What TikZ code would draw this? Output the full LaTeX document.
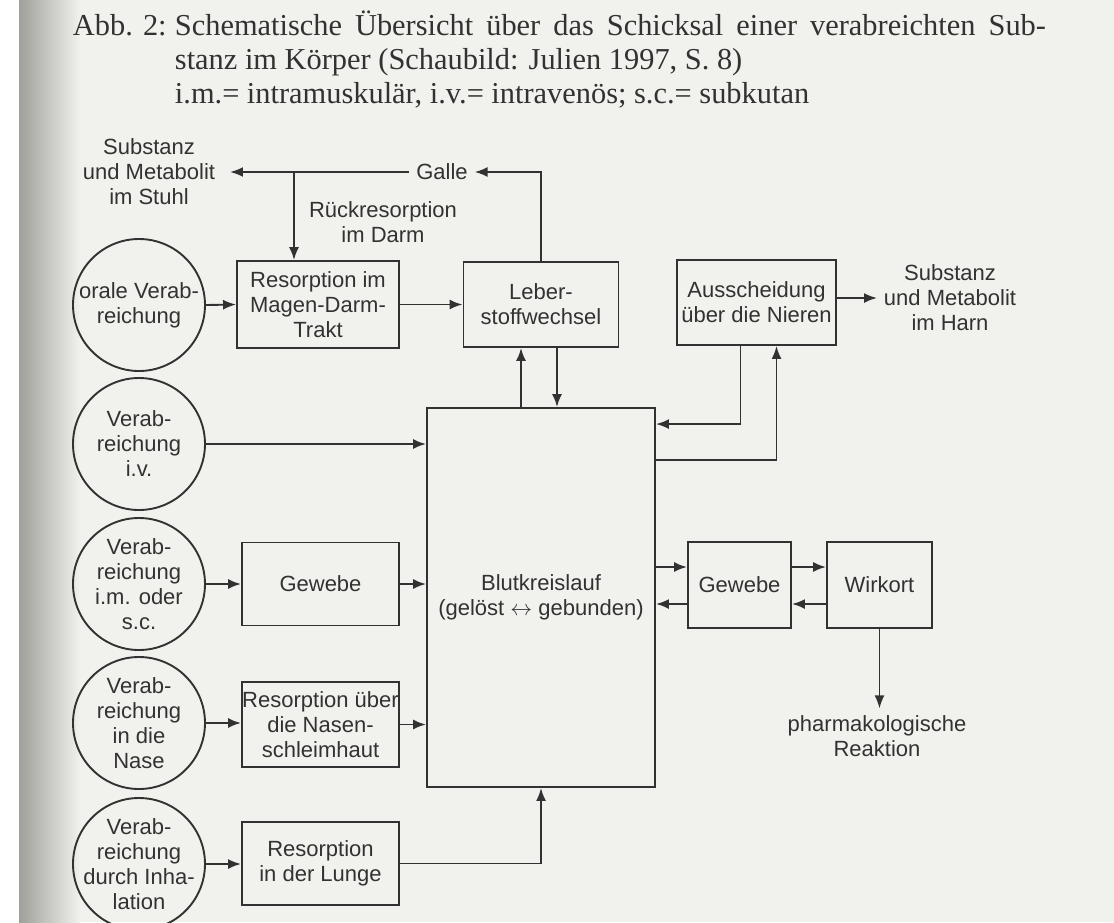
\documentclass[tikz,border=0pt]{standalone}
\usepackage{fontspec}
\setmainfont{Liberation Serif}
\setsansfont{Liberation Sans}
\usetikzlibrary{positioning, arrows.meta, calc}
\definecolor{ink}{RGB}{50,50,50}
\definecolor{paper}{RGB}{241,241,237}
\definecolor{edge}{RGB}{160,160,155}

\begin{document}
\begin{tikzpicture}[>={Latex[length=6.5pt,width=5pt]}, x=0.5pt, y=-0.5pt, font=\sffamily\fontsize{11}{12.5}\selectfont, ink, line width=0.95pt]

    \tikzstyle{box} = [draw, rectangle, inner sep=0pt, align=center]
    \tikzstyle{src} = [draw, circle, minimum size=66pt, inner sep=0pt]
    \tikzstyle{lbl} = [align=center, inner sep=3pt]
    \tikzstyle{captxt} = [anchor=base west, inner sep=0pt, font=\rmfamily\fontsize{15.2}{16.8}\selectfont]

    % Page
    \useasboundingbox (0,0) rectangle (1114,922);
    \fill[paper] (0,0) rectangle (1114,922);
    \fill[white] (0,0) rectangle (19,922);
    \shade[left color=edge, right color=paper, draw=none] (19,0) rectangle (80,922);

    % Caption
    \node[captxt] (abb) at (72,35) {Abb. 2:};
    \node[captxt] (cap1) at (174,35) {\makebox[435.5pt][s]{Schematische Übersicht über das Schicksal einer verabreichten Sub-}};
    \node[captxt] (cap2) at (174,69) {stanz im Körper (Schaubild: Julien 1997, S. 8)};
    \node[captxt] (cap3) at (174,103) {i.m.= intramuskulär, i.v.= intravenös; s.c.= subkutan};

    % Routes of administration
    \node[src] (oral) at (139,305) {};
    \node[src] (iv) at (139,444) {};
    \node[src] (im) at (139,584) {};
    \node[src] (nasal) at (139,723) {};
    \node[src] (inhal) at (139,864) {};
    \node[lbl] (oral-t) at (oral) {orale Verab-\\reichung};
    \node[lbl] (iv-t) at (iv) {Verab-\\reichung\\i.v.};
    \node[lbl] (im-t) at (im) {Verab-\\reichung\\i.m. oder\\s.c.};
    \node[lbl] (nasal-t) at (nasal) {Verab-\\reichung\\in die\\Nase};
    \node[lbl] (inhal-t) at (inhal) {Verab-\\reichung\\durch Inha-\\lation};

    % Absorption
    \node[box, minimum width=81pt, minimum height=43.5pt] (res) at (318,304.5) {Resorption im\\Magen-Darm-\\Trakt};
    \node[box, minimum width=78.5pt, minimum height=41.5pt] (gew1) at (320.5,584) {Gewebe};
    \node[box, minimum width=78.5pt, minimum height=42.5pt] (nase) at (320.5,724.5) {Resorption über\\die Nasen-\\schleimhaut};
    \node[box, minimum width=78.5pt, minimum height=41.5pt] (lunge) at (320.5,863.5) {Resorption\\in der Lunge};

    % Liver, kidneys, circulation
    \node[box, minimum width=77.5pt, minimum height=42.5pt] (leber) at (541,304.5) {Leber-\\stoffwechsel};
    \node[box, minimum width=79.5pt, minimum height=42.5pt] (aus) at (756.5,302.5) {Ausscheidung\\über die Nieren};
    \node[box, minimum width=114pt, minimum height=189.5pt] (blut) at (541,597.5) {Blutkreislauf\\(gelöst $\leftrightarrow$ gebunden)};

    % Tissue and site of action
    \node[box, minimum width=51.5pt, minimum height=43pt] (gew2) at (739.5,585) {Gewebe};
    \node[box, minimum width=52.5pt, minimum height=43pt] (wirk) at (879.5,585) {Wirkort};

    % Free labels
    \node[lbl] (stuhl) at (149,172) {Substanz\\und Metabolit\\im Stuhl};
    \node[lbl] (galle) at (442,172) {Galle};
    \node[lbl] (rueck) at (383,222) {Rückresorption\\im Darm};
    \node[lbl] (harn) at (950,298) {Substanz\\und Metabolit\\im Harn};
    \node[lbl] (pharm) at (877,736) {pharmakologische\\Reaktion};
    \coordinate (ruck) at (294,172);

    % Bile and reabsorption
    \draw[->] (leber.north) |- (galle.east);
    \draw[->, shorten >=4pt] (galle.west) -- (stuhl.east);
    \draw[->] (ruck) -- (ruck |- res.north);

    % Oral route
    \draw[->] (oral.east) -- (res.west);
    \draw[->] (res.east) -- (leber.west);

    % Liver <-> circulation
    \draw[->] ([xshift=-10pt]blut.north) -- ([xshift=-10pt]leber.south);
    \draw[->] ([xshift=8pt]leber.south) -- ([xshift=8pt]blut.north);

    % Kidneys
    \draw[->] ([xshift=-8pt]aus.south) |- ([yshift=-8.5pt]blut.north east);
    \draw[->] ([yshift=-26.5pt]blut.north east) -| ([xshift=10pt]aus.south);
    \draw[->] (aus.east |- harn.west) -- (harn.west);

    % Other routes
    \draw[->] (iv.east) -- (iv.east -| blut.west);
    \draw[->] (im.east) -- (im.east -| gew1.west);
    \draw[->] (gew1.east) -- (gew1.east -| blut.west);
    \draw[->] (nasal.east) -- (nasal.east -| nase.west);
    \draw[->] (nase.east) -- (nase.east -| blut.west);
    \draw[->] (inhal.east) -- (inhal.east -| lunge.west);
    \draw[->] (lunge.east) -| (blut.south);

    % Distribution to the site of action
    \draw[->] ([yshift=9pt]gew2.west -| blut.east) -- ([yshift=9pt]gew2.west);
    \draw[->] ([yshift=-9.5pt]gew2.west) -- ([yshift=-9.5pt]gew2.west -| blut.east);
    \draw[->] ([yshift=9pt]gew2.east) -- ([yshift=9pt]gew2.east -| wirk.west);
    \draw[->] ([yshift=-9.5pt]gew2.east -| wirk.west) -- ([yshift=-9.5pt]gew2.east);
    \draw[->] (wirk.south) -- (wirk.south |- pharm.north);
\end{tikzpicture}
\end{document}
